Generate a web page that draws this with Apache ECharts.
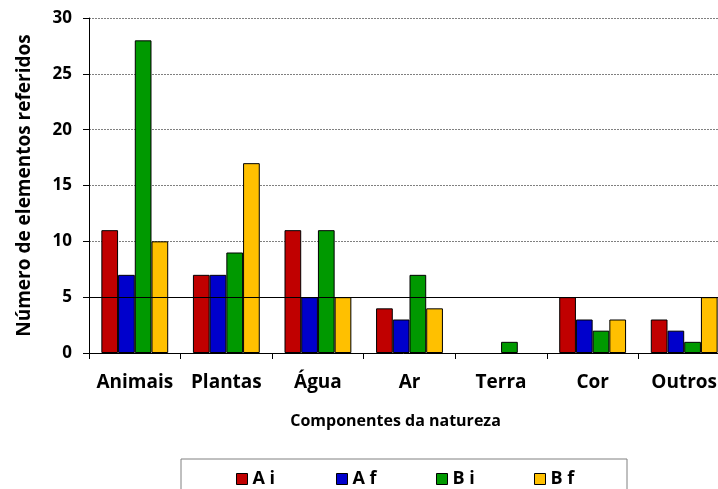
<!DOCTYPE html>
<html><head><meta charset="utf-8">
<script src="https://cdn.jsdelivr.net/npm/echarts@6/dist/echarts.min.js"></script>
<style>html,body{margin:0;padding:0;background:#fff}#c{width:718px;height:489px}</style>
</head><body><div id="c"></div>
<script>
const categories = ['Animais','Plantas','Água','Ar','Terra','Cor','Outros'];
const seriesNames = ['A i','A f','B i','B f'];
const Ai = [11, 7, 11, 4, 0, 5, 3];
const Af = [7, 7, 5, 3, 0, 3, 2];
const Bi = [28, 9, 11, 7, 1, 2, 1];
const Bf = [10, 17, 5, 4, 0, 3, 5];
const yTicks = [0, 5, 10, 15, 20, 25, 30];
const colors = ['#C00000', '#0000CC', '#009900', '#FFC000'];
const values = [Ai, Af, Bi, Bf];
const FONT = 'Open Sans';

const chart = echarts.init(document.getElementById('c'));
const bars = seriesNames.map((n, i) => ({
  name: n, type: 'bar', data: values[i].map(v => v === 0 ? null : v), z: 3,
  barGap: '0%', barCategoryGap: '27%',
  itemStyle: { color: colors[i], borderColor: '#000', borderWidth: 1 },
  emphasis: { disabled: true }
}));
bars.push({
  name: 'ref5', type: 'line', data: [], z: 1, silent: true,
  markLine: { silent: true, symbol: 'none', label: { show: false },
    lineStyle: { color: '#000', type: 'solid', width: 1 },
    data: [{ yAxis: yTicks[1] }] }
});
const legendLefts = [236, 336, 436, 534];
const legends = seriesNames.map((n, i) => ({
  data: [n], left: legendLefts[i], top: 470, itemWidth: 11, itemHeight: 11, itemGap: 4,
  icon: 'rect', padding: 0,
  itemStyle: { borderColor: '#000', borderWidth: 1 },
  textStyle: { fontFamily: FONT, fontWeight: 'bold', fontSize: 18, color: '#000' }
}));
chart.setOption({
  animation: false,
  grid: { left: 89, right: -12, top: 18, bottom: 136, outerBoundsMode: 'none', containLabel: false },
  graphic: [{ type: 'rect', shape: { x: 181, y: 459, width: 446, height: 40 },
    style: { fill: '#fff', stroke: '#808080', lineWidth: 1 }, z: 0 }],
  legend: legends,
  xAxis: {
    type: 'category', data: categories,
    name: 'Componentes da natureza', nameLocation: 'middle', nameGap: 60,
    nameTextStyle: { fontFamily: FONT, fontWeight: 'bold', fontSize: 16, color: '#000', padding: [0, 28, 0, 0] },
    axisLine: { lineStyle: { color: '#000', width: 1 } },
    axisTick: { show: true, length: 6, lineStyle: { color: '#000' } },
    axisLabel: { interval: 0, fontFamily: FONT, fontWeight: 'bold', fontSize: 19, color: '#000', margin: 20 }
  },
  yAxis: {
    type: 'value', min: yTicks[0], max: yTicks[yTicks.length - 1], interval: 5,
    name: 'Número de elementos referidos', nameLocation: 'middle', nameGap: 55,
    nameTextStyle: { fontFamily: FONT, fontWeight: 'bold', fontSize: 19, color: '#000' },
    axisLine: { show: true, lineStyle: { color: '#000', width: 1 } },
    axisTick: { show: true, length: 6, lineStyle: { color: '#000' } },
    axisLabel: { fontFamily: FONT, fontWeight: 'bold', fontSize: 17, color: '#000', margin: 17 },
    splitLine: { show: true, lineStyle: { color: '#808080', type: [2, 1], width: 1 } }
  },
  series: bars
});
</script></body></html>
